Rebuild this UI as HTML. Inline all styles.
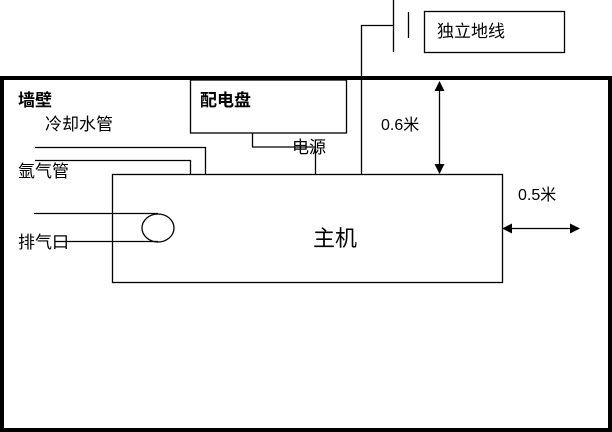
<!DOCTYPE html>
<html><head><meta charset="utf-8"><style>
html,body{margin:0;padding:0;background:#fff;}
svg{display:block;}
text{font-family:"Liberation Sans","Noto Sans CJK SC",sans-serif;fill:#000;}
</style></head><body>
<svg width="612" height="432" viewBox="0 0 612 432" xmlns="http://www.w3.org/2000/svg">
<defs>
<marker id="a" markerWidth="10" markerHeight="10" refX="9" refY="5" orient="auto-start-reverse" markerUnits="userSpaceOnUse"><path d="M0,0 L10,5 L0,10 z" fill="#000"/></marker>
</defs>
<rect x="2" y="78" width="608" height="352" fill="none" stroke="#000" stroke-width="4"/>
<g fill="none" stroke="#000" stroke-width="1.3">
<rect x="190.5" y="80" width="156" height="53"/>
<polyline points="252.5,133 252.5,147 315.5,147 315.5,174"/>
<polyline points="35,147.5 205.5,147.5 205.5,174"/>
<polyline points="35,160.5 190.5,160.5 190.5,174"/>
<rect x="112.5" y="174.5" width="390" height="108"/>
<polyline points="361.5,174 361.5,25.5 393,25.5"/>
<line x1="393.5" y1="0" x2="393.5" y2="52"/>
<line x1="408.5" y1="12" x2="408.5" y2="38"/>
<rect x="424.5" y="11.5" width="140" height="41"/>
<ellipse cx="158" cy="228" rx="16" ry="14"/>
<line x1="34" y1="213.5" x2="158" y2="213.5"/>
<line x1="55" y1="241.5" x2="158" y2="241.5"/>
<line x1="439.5" y1="82" x2="439.5" y2="173" marker-start="url(#a)" marker-end="url(#a)"/>
<line x1="503" y1="228.5" x2="579" y2="228.5" marker-start="url(#a)" marker-end="url(#a)"/>
</g>
<text x="18" y="106" font-size="17" font-weight="bold">墙壁</text>
<text x="45" y="130" font-size="17">冷却水管</text>
<text x="18" y="177" font-size="17">氩气管</text>
<text x="18" y="248" font-size="17">排气口</text>
<text x="200" y="106" font-size="17" font-weight="bold">配电盘</text>
<text x="292" y="153" font-size="17">电源</text>
<text x="313" y="246" font-size="22">主机</text>
<text x="381" y="130" font-size="16">0.6米</text>
<text x="518" y="200" font-size="16">0.5米</text>
<text x="437" y="37" font-size="17">独立地线</text>
</svg>
</body></html>
